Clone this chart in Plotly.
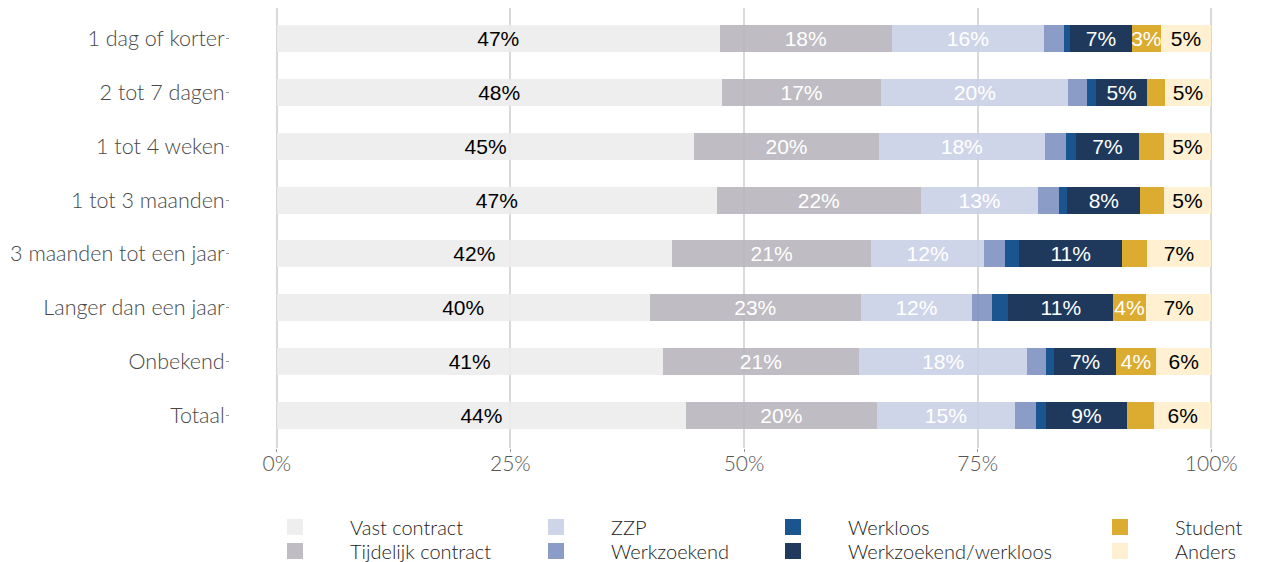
import math
import plotly.graph_objects as go

categories = ["1 dag of korter", "2 tot 7 dagen", "1 tot 4 weken", "1 tot 3 maanden",
              "3 maanden tot een jaar", "Langer dan een jaar", "Onbekend", "Totaal"]

series_names = ["Vast contract", "Tijdelijk contract", "ZZP", "Werkzoekend",
                "Werkloos", "Werkzoekend/werkloos", "Student", "Anders"]

vast_contract = [47.4, 47.6, 44.7, 47.1, 42.3, 39.9, 41.3, 43.8]
tijdelijk_contract = [18.4, 17.1, 19.7, 21.8, 21.3, 22.6, 21.0, 20.4]
zzp = [16.3, 20.0, 17.8, 12.6, 12.1, 11.9, 18.0, 14.8]
werkzoekend = [2.1, 2.0, 2.3, 2.2, 2.2, 2.1, 2.0, 2.2]
werkloos = [0.7, 1.0, 1.0, 0.9, 1.5, 1.8, 0.9, 1.1]
werkzoekend_werkloos = [6.6, 5.4, 6.8, 7.8, 11.1, 11.2, 6.6, 8.7]
student = [3.1, 1.9, 2.6, 2.5, 2.6, 3.5, 4.3, 2.9]
anders = [5.4, 5.0, 5.1, 5.1, 6.9, 7.0, 5.9, 6.1]

x_tickvals = [0, 25, 50, 75, 100]
x_ticktext = ["0%", "25%", "50%", "75%", "100%"]

values = [vast_contract, tijdelijk_contract, zzp, werkzoekend,
          werkloos, werkzoekend_werkloos, student, anders]

# displayed colours (over white)
colors = ["#eeeeee", "#bfbcc3", "#cfd5e8", "#8b9cc6",
          "#1a5590", "#1f3a5c", "#dcac31", "#fef0d0"]
text_colors = ["#000000", "#ffffff", "#ffffff", "#ffffff",
               "#ffffff", "#ffffff", "#ffffff", "#000000"]

ALPHA = 0.9


def compensated(hexcol, a=ALPHA):
    h = hexcol.lstrip("#")
    rgb = [int(h[i:i + 2], 16) for i in (0, 2, 4)]
    base = [max(0, min(255, round((c - (1 - a) * 255) / a))) for c in rgb]
    return "rgba({},{},{},{})".format(*base, a)


def pct_label(v):
    return f"{int(math.floor(v + 0.5))}%" if v >= 3 else ""


label_font = "Liberation Sans, Arial, sans-serif"
axis_font = "Lato, Calibri, sans-serif"

# ---- geometry (screen pixels; the page body has an 8px margin) ----
OFF = 8
W, H = 1261 - OFF, 562 - OFF
scr_l, scr_r, scr_t, scr_b = 230, 1258, OFF, 448
row0_c, row_step = 38.5, 53.86
plot_l, plot_r = scr_l - OFF, scr_r - OFF
plot_t, plot_b = scr_t - OFF, scr_b - OFF
y_top_val = (scr_t - row0_c) / row_step
y_bot_val = (scr_b - row0_c) / row_step

fig = go.Figure()

for name, vals, col, tcol in zip(series_names, values, colors, text_colors):
    fig.add_trace(go.Bar(
        y=categories, x=vals, name=name, orientation="h",
        marker=dict(color=compensated(col), line=dict(width=0)),
        width=0.5,
        text=[pct_label(v) for v in vals],
        textposition="inside", insidetextanchor="middle",
        constraintext="none",
        textfont=dict(family=label_font, size=21, color=tcol),
        showlegend=False, hoverinfo="x+name",
    ))

# legend entries (8 single-item legends, laid out column-wise like the reference)
legend_cols_scr = [296, 557, 794, 1121]   # swatch centres
legend_rows_scr = [527, 551]              # row centres
ITEMW = 100

legend_layout = {}
for i, (name, col) in enumerate(zip(series_names, colors)):
    col_i, row_i = i // 2, i % 2
    key = "legend" if i == 0 else f"legend{i + 1}"
    fig.add_trace(go.Scatter(
        x=[None], y=[None], mode="markers", name=name,
        marker=dict(symbol="square", size=17, color=col),
        legend=key, showlegend=True, hoverinfo="skip",
    ))
    px_x = legend_cols_scr[col_i] - OFF - (ITEMW / 2 + 6)
    px_y = legend_rows_scr[row_i] - OFF
    legend_layout[key] = dict(
        x=(px_x - plot_l) / (plot_r - plot_l),
        y=(plot_b - px_y) / (plot_b - plot_t),
        xanchor="left", yanchor="middle",
        bgcolor="rgba(0,0,0,0)", borderwidth=0,
        itemwidth=ITEMW,
        font=dict(family=axis_font, size=20, color="#222222", weight=300),
        itemclick=False, itemdoubleclick=False,
    )

fig.update_layout(
    width=W, height=H,
    margin=dict(l=plot_l, r=W - plot_r, t=plot_t, b=H - plot_b, autoexpand=False),
    barmode="stack",
    plot_bgcolor="white", paper_bgcolor="white",
    bargap=0.5,
    xaxis=dict(
        range=[-5, 105], tickvals=x_tickvals, ticktext=x_ticktext,
        showgrid=True, gridcolor="#d9d9d9", gridwidth=1.5,
        zeroline=False, showline=False,
        ticks="outside", ticklen=3, tickcolor="#999999",
        ticklabelstandoff=-6,
        tickfont=dict(family=axis_font, size=21, color="#555555", weight=300),
        fixedrange=True,
    ),
    yaxis=dict(
        categoryorder="array", categoryarray=categories,
        range=[y_bot_val, y_top_val],
        showgrid=False, zeroline=False, showline=False,
        ticks="outside", ticklen=3, tickcolor="#999999",
        ticklabelstandoff=-3,
        tickfont=dict(family=axis_font, size=21.5, color="#484848", weight=300),
        fixedrange=True,
    ),
    **legend_layout,
)

fig.write_html("out.html")
